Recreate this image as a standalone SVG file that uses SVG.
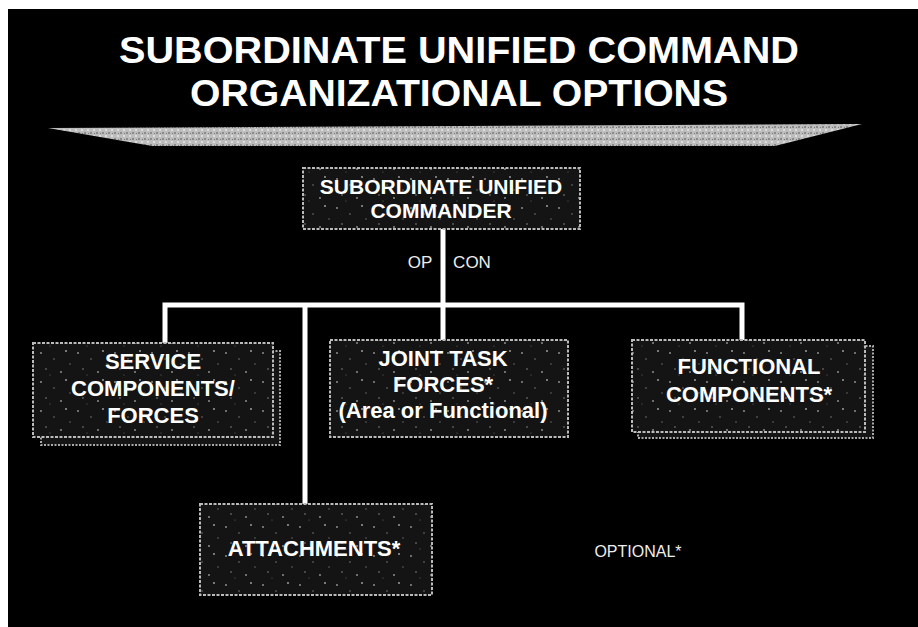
<svg xmlns="http://www.w3.org/2000/svg" width="918" height="627" viewBox="0 0 918 627">
<style>
.bold{font-family:"Liberation Sans",Arial,sans-serif;font-weight:bold;fill:#fff;text-anchor:middle}
.reg{font-family:"Liberation Sans",Arial,sans-serif;fill:#eee;text-anchor:middle}
.box{fill:url(#stip);stroke:#bbb;stroke-width:2;stroke-dasharray:3 1.5}
.back{fill:#151515;stroke:#aaa;stroke-width:2;stroke-dasharray:2 1.5}
.wire{stroke:#fff;stroke-width:5;fill:none}
</style>
<defs>
<pattern id="stip" width="37" height="29" patternUnits="userSpaceOnUse">
<rect width="37" height="29" fill="#141414"/>
<circle cx="4" cy="5" r="0.9" fill="#999"/>
<circle cx="17" cy="11" r="0.8" fill="#777"/>
<circle cx="29" cy="3" r="0.9" fill="#aaa"/>
<circle cx="9" cy="21" r="0.8" fill="#888"/>
<circle cx="24" cy="24" r="0.9" fill="#999"/>
<circle cx="33" cy="16" r="0.7" fill="#777"/>
<circle cx="13" cy="27" r="0.6" fill="#666"/>
</pattern>
<pattern id="band" width="6" height="6" patternUnits="userSpaceOnUse">
<rect width="6" height="6" fill="#bdbdbd"/>
<rect x="0" y="0" width="2" height="2" fill="#8a8a8a"/>
<rect x="3" y="3" width="2" height="2" fill="#dcdcdc"/>
<rect x="4" y="1" width="1" height="1" fill="#777"/>
</pattern>
</defs>
<rect x="0" y="0" width="918" height="627" fill="#fff"/>
<rect x="8" y="9" width="910" height="618" fill="#000"/>
<g id="title">
<text class="bold" x="459" y="63" font-size="36" textLength="680" lengthAdjust="spacingAndGlyphs">SUBORDINATE UNIFIED COMMAND</text>
<text class="bold" x="459" y="106" font-size="36" textLength="538" lengthAdjust="spacingAndGlyphs">ORGANIZATIONAL OPTIONS</text>
</g>
<g id="banner">
<polygon points="48,128 862,124 775,146 152,146" fill="url(#band)"/>
</g>
<g id="connectors">
<line class="wire" x1="443" y1="229" x2="443" y2="340"/>
<polyline class="wire" points="165,343 165,305 742,305 742,340"/>
<line class="wire" x1="305" y1="305" x2="305" y2="504"/>
</g>
<g id="opcon">
<text class="reg" x="420" y="268" font-size="17">OP</text>
<text class="reg" x="472" y="268" font-size="17">CON</text>
</g>
<g id="commander">
<rect class="box" x="303" y="168" width="277" height="61"/>
<text class="bold" x="441" y="194" font-size="21">SUBORDINATE UNIFIED</text>
<text class="bold" x="441" y="218" font-size="21">COMMANDER</text>
</g>
<g id="service">
<rect class="back" x="41" y="351" width="239" height="94"/>
<rect class="box" x="33" y="343" width="240" height="94"/>
<text class="bold" x="153" y="369" font-size="22">SERVICE</text>
<text class="bold" x="153" y="396" font-size="22">COMPONENTS/</text>
<text class="bold" x="153" y="423" font-size="22">FORCES</text>
</g>
<g id="jtf">
<rect class="box" x="330" y="340" width="238" height="97"/>
<text class="bold" x="443" y="366" font-size="22">JOINT TASK</text>
<text class="bold" x="443" y="392" font-size="22">FORCES*</text>
<text class="bold" x="443" y="418" font-size="22">(Area or Functional)</text>
</g>
<g id="functional">
<rect class="back" x="638" y="346" width="235" height="92"/>
<rect class="box" x="632" y="340" width="233" height="92"/>
<text class="bold" x="749" y="374" font-size="22">FUNCTIONAL</text>
<text class="bold" x="749" y="402" font-size="22">COMPONENTS*</text>
</g>
<g id="attachments">
<rect class="box" x="200" y="504" width="232" height="91"/>
<text class="bold" x="314" y="556" font-size="22">ATTACHMENTS*</text>
</g>
<g id="optional">
<text class="reg" x="638" y="557" font-size="16">OPTIONAL*</text>
</g>
</svg>
